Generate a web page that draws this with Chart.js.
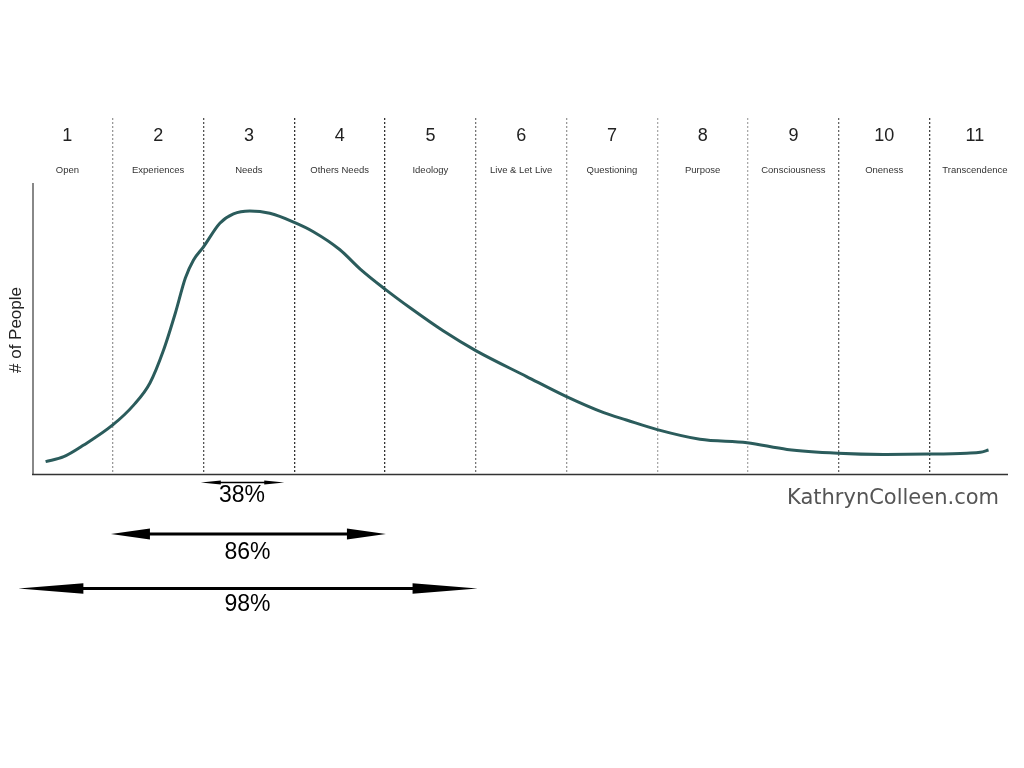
<!DOCTYPE html>
<html>
<head>
<meta charset="utf-8">
<script src="https://cdn.jsdelivr.net/npm/chart.js@4.4.1/dist/chart.umd.min.js"></script>
<style>
html,body{margin:0;padding:0;background:#fff;}
#wrap{width:1024px;height:768px;position:relative;}
</style>
</head>
<body>
<div id="wrap"><canvas id="c" width="1024" height="768"></canvas></div>
<script>
// ---- data ----
const stageNumbers = ["1","2","3","4","5","6","7","8","9","10","11"];
const stageNames = ["Open","Experiences","Needs","Others Needs","Ideology","Live & Let Live","Questioning","Purpose","Consciousness","Oneness","Transcendence"];
const curveX = [0.76,0.96,1.18,1.50,1.73,1.91,2.06,2.19,2.30,2.39,2.50,2.68,2.83,3.01,3.23,3.50,3.71,4.00,4.23,4.50,4.78,5.14,5.50,6.06,6.50,6.91,7.16,7.50,7.97,8.49,8.93,9.49,9.99,10.49,10.91,11.06,11.15];
const curveY = [4.4,6.1,10.1,17.0,23.8,31.4,42.7,55.4,67.4,73.6,78.1,86.2,89.4,90.4,89.6,86.5,83.3,77.2,70.4,63.6,57.1,49.3,42.5,33.6,26.7,21.2,18.7,15.4,12.1,10.9,8.6,7.3,6.9,7.0,7.3,7.6,8.4];
const spanLabels = ["38%","86%","98%"];
const spanFrom = [2.47,1.48,0.46];
const spanTo = [3.39,4.51,5.52];
const boundaries = [1.5,2.5,3.5,4.5,5.5,6.5,7.5,8.5,9.5,10.5];
const boundaryColors = ["#9a9a9a","#555","#333","#333","#777","#9a9a9a","#aaa","#aaa","#666","#444"];
const yTitle = "# of People";
const watermark = "KathrynColleen.com";

const points = curveX.map((x,i)=>({x:x,y:curveY[i]}));

function arrow(ctx, x1, x2, y, headLen, headH, shaft){
  ctx.save();
  ctx.fillStyle = "#000";
  ctx.strokeStyle = "#000";
  ctx.lineWidth = shaft;
  ctx.beginPath();
  ctx.moveTo(x1+headLen*0.9, y);
  ctx.lineTo(x2-headLen*0.9, y);
  ctx.stroke();
  ctx.beginPath();
  ctx.moveTo(x1, y);
  ctx.lineTo(x1+headLen, y-headH/2);
  ctx.lineTo(x1+headLen, y+headH/2);
  ctx.closePath();
  ctx.fill();
  ctx.beginPath();
  ctx.moveTo(x2, y);
  ctx.lineTo(x2-headLen, y-headH/2);
  ctx.lineTo(x2-headLen, y+headH/2);
  ctx.closePath();
  ctx.fill();
  ctx.restore();
}

const deco = {
  id:'deco',
  afterDraw(chart){
    const ctx = chart.ctx;
    const xs = chart.scales.x, ys = chart.scales.y;
    const y0 = ys.getPixelForValue(0);
    const yTop = ys.getPixelForValue(100);
    ctx.save();
    // header
    ctx.textAlign = 'center';
    ctx.textBaseline = 'middle';
    stageNumbers.forEach((t,i)=>{
      const px = xs.getPixelForValue(i+1);
      ctx.font = '18px "Liberation Sans", Arial, sans-serif';
      ctx.fillStyle = '#222';
      ctx.fillText(t, px, 136);
      ctx.font = '9.5px "Liberation Sans", Arial, sans-serif';
      ctx.fillStyle = '#333';
      ctx.fillText(stageNames[i], px, 170);
    });
    // axes
    ctx.strokeStyle = '#888';
    ctx.lineWidth = 2;
    ctx.beginPath();
    ctx.moveTo(33, yTop);
    ctx.lineTo(33, y0);
    ctx.stroke();
    ctx.strokeStyle = '#333';
    ctx.lineWidth = 1.5;
    ctx.beginPath();
    ctx.moveTo(32, y0);
    ctx.lineTo(1008, y0);
    ctx.stroke();
    // y title
    ctx.save();
    ctx.translate(16, 330);
    ctx.rotate(-Math.PI/2);
    ctx.font = '17px "Liberation Sans", Arial, sans-serif';
    ctx.fillStyle = '#222';
    ctx.fillText(yTitle, 0, 0);
    ctx.restore();
    // arrows
    const arrowY = [482.5, 534, 588.5];
    const textY = [496, 552.5, 605];
    const heads = [[20,4,1.5],[39,11,3],[65,10.5,3]];
    spanLabels.forEach((lab,i)=>{
      const x1 = xs.getPixelForValue(spanFrom[i]);
      const x2 = xs.getPixelForValue(spanTo[i]);
      arrow(ctx, x1, x2, arrowY[i], heads[i][0], heads[i][1], heads[i][2]);
      ctx.font = '23px "Liberation Sans", Arial, sans-serif';
      ctx.fillStyle = '#000';
      ctx.textAlign = 'center';
      ctx.fillText(lab, i===0 ? 242 : 247.5, textY[i]);
    });
    // watermark
    ctx.font = '21px "DejaVu Sans", sans-serif';
    ctx.fillStyle = '#555';
    ctx.textAlign = 'left';
    ctx.textBaseline = 'alphabetic';
    ctx.fillText(watermark, 787, 504, 214);
    ctx.restore();
  }
};

new Chart(document.getElementById('c'), {
  type:'line',
  data:{
    datasets:[{
      data: points,
      borderColor:'#2b5c5c',
      borderWidth:3,
      pointRadius:0,
      tension:0.4,
      cubicInterpolationMode:'monotone',
      fill:false
    }]
  },
  options:{
    responsive:false,
    animation:false,
    events:[],
    layout:{padding:{left:22,right:3.7,top:118,bottom:293.5}},
    plugins:{legend:{display:false},tooltip:{enabled:false},title:{display:false}},
    scales:{
      x:{
        type:'linear',
        min:0.5,max:11.5,
        afterBuildTicks(scale){ scale.ticks = boundaries.map(v=>({value:v})); },
        ticks:{display:false},
        grid:{
          drawTicks:false,
          lineWidth:1.3,
          color(c){ const i = boundaries.indexOf(c.tick && c.tick.value); return i>=0 ? boundaryColors[i] : 'rgba(0,0,0,0)'; }
        },
        border:{display:false,dash:[2,2]}
      },
      y:{
        display:false,
        min:0,max:122.3
      }
    }
  },
  plugins:[deco]
});
</script>
</body>
</html>
